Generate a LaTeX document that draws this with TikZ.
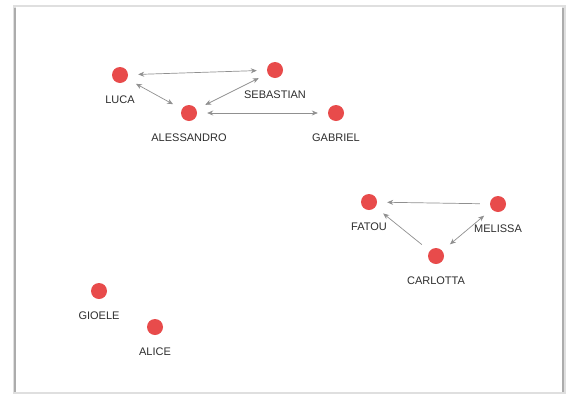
\documentclass[tikz,border=0pt]{standalone}
\usepackage{fontspec}
\setmainfont{Liberation Sans}
\usetikzlibrary{arrows.meta}
\definecolor{NodeRed}{HTML}{E84B4B}
\definecolor{EdgeGray}{HTML}{909090}
\definecolor{LabelGray}{HTML}{2E2E2E}

\begin{document}
\begin{tikzpicture}[x=1pt,y=-1pt,
    person/.style={circle,fill=NodeRed,minimum size=16pt,inner sep=0pt,
      label={[label distance=9pt,text=LabelGray,font=\fontsize{11}{13}\selectfont]below:#1}},
    link/.style={EdgeGray,line width=0.7pt,shorten >=10pt,shorten <=10pt},
    both/.style={link,{Stealth[length=6pt,width=5pt]}-{Stealth[length=6pt,width=5pt]}},
    one/.style={link,-{Stealth[length=6pt,width=5pt]}}]
        \useasboundingbox (0,0) rectangle (569,394);
        % frame with its shadow
        \fill[gray!25] (13,5) rectangle (566,394);
        \fill[gray!65] (14,8) rectangle (17,392);
        \fill[gray!65] (561,8) rectangle (564,392);
        \fill[white] (16,7) rectangle (562,392);
        
        % first group
        \node[person=LUCA] (luca) at (120,75) {};
        \node[person=SEBASTIAN] (sebastian) at (275,70) {};
        \node[person=ALESSANDRO] (alessandro) at (189,113) {};
        \node[person=GABRIEL] (gabriel) at (336,113) {};
        
        % second group
        \node[person=FATOU] (fatou) at (369,202) {};
        \node[person=MELISSA] (melissa) at (498,204) {};
        \node[person=CARLOTTA] (carlotta) at (436,256) {};
        
        % alone
        \node[person=GIOELE] (gioele) at (99,291) {};
        \node[person=ALICE] (alice) at (155,327) {};
        
        \draw[both] (luca) -- (sebastian);
        \draw[both] (luca) -- (alessandro);
        \draw[both] (alessandro) -- (sebastian);
        \draw[both] (alessandro) -- (gabriel);
        
        \draw[one] (melissa) -- (fatou);
        \draw[one] (carlotta) -- (fatou);
        \draw[both] (melissa) -- (carlotta);
        
    \end{tikzpicture}
\end{document}
